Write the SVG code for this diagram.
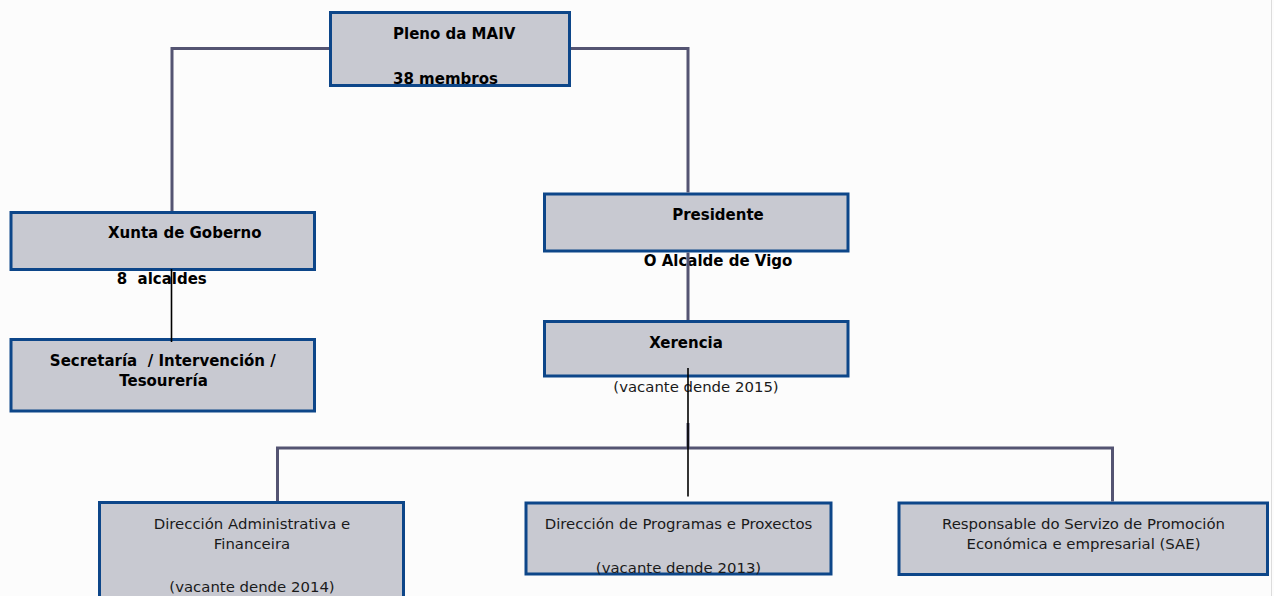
<svg xmlns="http://www.w3.org/2000/svg" width="1274" height="596" viewBox="0 0 1274 596">
<style>
.box{fill:#c8c9d1;stroke:#0d4689;stroke-width:3}
.b{font-family:"DejaVu Sans",Verdana,sans-serif;font-size:15px;font-weight:bold;fill:#000;text-anchor:middle;white-space:pre}
.s{text-anchor:start}
.r{font-family:"DejaVu Sans",Verdana,sans-serif;font-size:14.9px;fill:#1a1a1a;text-anchor:middle;white-space:pre}
.c{fill:none;stroke:#545472;stroke-width:3}
.k{fill:none;stroke:#000;stroke-width:1.6}
</style>
<rect x="0" y="0" width="1274" height="596" fill="#fcfcfc"/>
<line x1="1271.5" y1="0" x2="1271.5" y2="596" stroke="#dcdcdc" stroke-width="1"/>
<g id="pleno">
<rect class="box" x="330.5" y="12.5" width="239" height="73"/>
<text class="b s" x="393" y="39">Pleno da MAIV</text>
<text class="b s" x="393" y="84">38 membros</text>
</g>
<g id="xunta">
<rect class="box" x="11" y="212.5" width="303.5" height="57"/>
<text class="b" x="184.7" y="238">Xunta de Goberno</text>
<text class="b" x="161.7" y="284" xml:space="preserve">8  alcaldes</text>
</g>
<g id="secretaria">
<rect class="box" x="11" y="339.5" width="303.5" height="71.5"/>
<text class="b" x="162.8" y="366" xml:space="preserve">Secretaría  / Intervención /</text>
<text class="b" x="163.5" y="386">Tesourería</text>
</g>
<g id="presidente">
<rect class="box" x="544.5" y="194" width="303.5" height="57"/>
<text class="b" x="718" y="220">Presidente</text>
<text class="b" x="718" y="266">O Alcalde de Vigo</text>
</g>
<g id="xerencia">
<rect class="box" x="544.5" y="321.5" width="303.5" height="54.5"/>
<text class="b" x="686" y="348">Xerencia</text>
<text class="r" x="696" y="392">(vacante dende 2015)</text>
</g>
<g id="dir-admin">
<rect class="box" x="99.5" y="502.5" width="304" height="110"/>
<text class="r" x="252" y="529">Dirección Administrativa e</text>
<text class="r" x="252" y="549">Financeira</text>
<text class="r" x="252" y="592">(vacante dende 2014)</text>
</g>
<g id="dir-programas">
<rect class="box" x="526" y="503" width="305" height="71"/>
<text class="r" x="678.5" y="528.5">Dirección de Programas e Proxectos</text>
<text class="r" x="678.5" y="572.5">(vacante dende 2013)</text>
</g>
<g id="responsable">
<rect class="box" x="899" y="503" width="368.5" height="71.5"/>
<text class="r" x="1083.5" y="528.5">Responsable do Servizo de Promoción</text>
<text class="r" x="1083.5" y="548.5">Económica e empresarial (SAE)</text>
</g>
<g id="connectors">
<polyline class="c" points="172,211 172,48.5 329,48.5"/>
<polyline class="c" points="571,48.5 688,48.5 688,192.5"/>
<line class="c" x1="688" y1="252.5" x2="688" y2="320"/>
<line class="c" x1="688" y1="423" x2="688" y2="448"/>
<polyline class="c" points="277.5,501 277.5,448 1112.5,448 1112.5,501.5"/>
<line class="k" x1="171.5" y1="269" x2="171.5" y2="342"/>
<line class="k" x1="688" y1="368" x2="688" y2="496.5"/>
</g>
</svg>
